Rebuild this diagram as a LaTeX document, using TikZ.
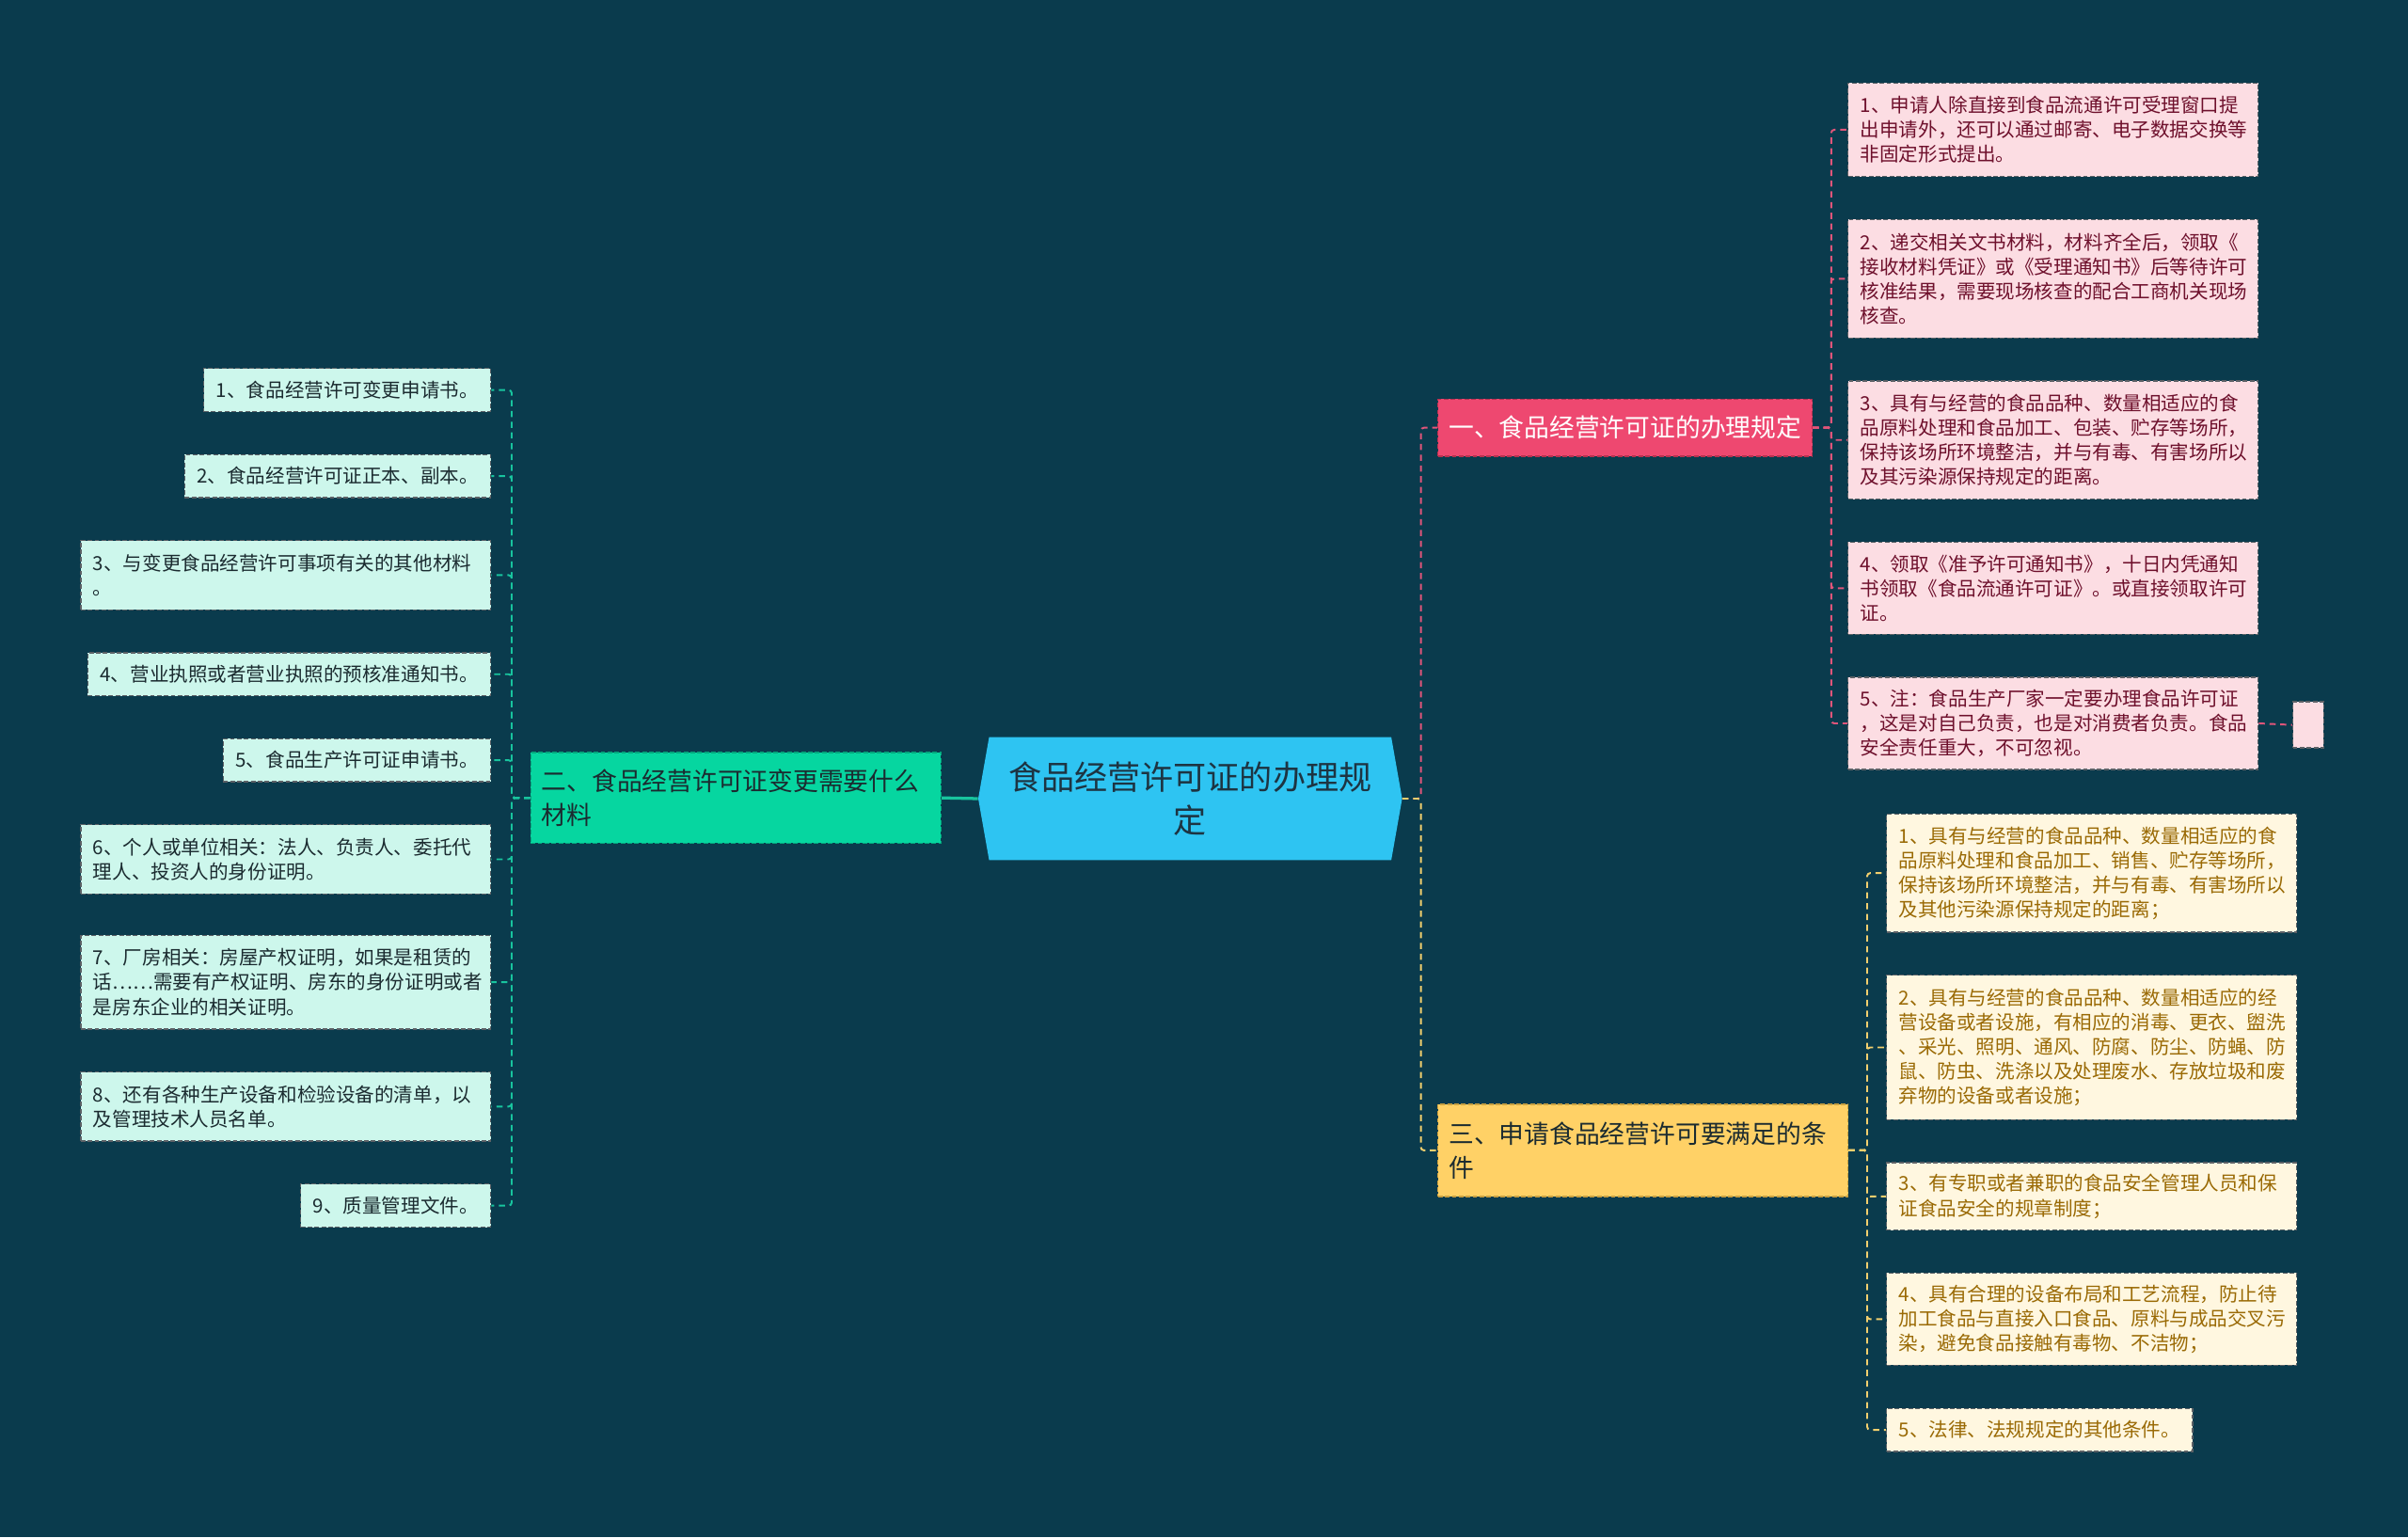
\documentclass[tikz,border=0pt]{standalone}
\usepackage{fontspec}
\newfontfamily\cjk{Noto Sans CJK SC}
\usetikzlibrary{shapes.symbols}
\definecolor{bgcol}{HTML}{0A3B4D}
\definecolor{rootcol}{HTML}{2EC4F2}
\definecolor{roottext}{HTML}{1D3442}
\definecolor{redcol}{HTML}{EE4870}
\definecolor{rededge}{HTML}{B8304F}
\definecolor{mintcol}{HTML}{06D6A0}
\definecolor{mintedge}{HTML}{04A67C}
\definecolor{goldcol}{HTML}{FFD166}
\definecolor{goldedge}{HTML}{C9A040}
\definecolor{pinkfill}{HTML}{FCDDE3}
\definecolor{pinktext}{HTML}{6E102C}
\definecolor{creamfill}{HTML}{FFF7E0}
\definecolor{creamtext}{HTML}{9A6A05}
\definecolor{icefill}{HTML}{CDF7EC}
\definecolor{icetext}{HTML}{1B2B30}
\definecolor{leafedge}{HTML}{5C6166}
\definecolor{pinkwire}{HTML}{E0557A}
\definecolor{goldwire}{HTML}{F2CF6E}
\definecolor{mintwire}{HTML}{18C49E}
\begin{document}
\begin{tikzpicture}[x=1pt, y=-1pt,
    rootnode/.style={shape=signal, signal to=west and east, signal pointer angle=160,
        fill=rootcol, text=roottext, minimum width=276pt, minimum height=80pt,
        inner sep=0pt, align=center, font=\cjk\fontsize{21.5}{28}\selectfont},
    branch/.style={draw, dash pattern=on 3pt off 1.5pt, line width=0.8pt, inner xsep=7pt,
        inner ysep=0pt, align=left, font=\cjk\fontsize{16.4}{22}\selectfont},
    leaf/.style={draw=leafedge, dash pattern=on 3pt off 1.5pt, line width=0.8pt, inner xsep=8pt,
        inner ysep=0pt, align=left, font=\cjk\fontsize{12.6}{16}\selectfont},
    wide/.style={text width=251pt},
    pleaf/.style={leaf, wide, fill=pinkfill, text=pinktext, anchor=west},
    yleaf/.style={leaf, fill=creamfill, text=creamtext, anchor=west},
    gleaf/.style={leaf, fill=icefill, text=icetext, anchor=east},
    wire/.style={line width=1.2pt, dash pattern=on 4pt off 3pt, rounded corners=2pt},
    pwire/.style={wire, draw=pinkwire},
    ywire/.style={wire, draw=goldwire},
    gwire/.style={wire, draw=mintwire}]
    \fill[bgcol] (0,0) rectangle (1568,1001);

    \node[rootnode] (root) at (775,520) {食品经营许可证的办理规\\定};

    \node[branch, fill=redcol, draw=rededge, text=white, anchor=west, minimum height=37pt] (b1) at (936,278.5) {一、食品经营许可证的办理规定};
    \node[branch, fill=mintcol, draw=mintedge, text=icetext, anchor=east, text width=253pt, minimum height=59pt] (b2) at (613,519.5) {二、食品经营许可证变更需要什么\\材料};
    \node[branch, fill=goldcol, draw=goldedge, text=icetext, anchor=west, text width=253pt, minimum height=60pt] (b3) at (936,749) {三、申请食品经营许可要满足的条\\件};

    \node[pleaf, minimum height=61pt] (p1) at (1203,84.5) {1、申请人除直接到食品流通许可受理窗口提\\出申请外，还可以通过邮寄、电子数据交换等\\非固定形式提出。};
    \node[pleaf, minimum height=77pt] (p2) at (1203,181.5) {2、递交相关文书材料，材料齐全后，领取《\\接收材料凭证》或《受理通知书》后等待许可\\核准结果，需要现场核查的配合工商机关现场\\核查。};
    \node[pleaf, minimum height=77pt] (p3) at (1203,286.5) {3、具有与经营的食品品种、数量相适应的食\\品原料处理和食品加工、包装、贮存等场所，\\保持该场所环境整洁，并与有毒、有害场所以\\及其污染源保持规定的距离。};
    \node[pleaf, minimum height=60pt] (p4) at (1203,383) {4、领取《准予许可通知书》，十日内凭通知\\书领取《食品流通许可证》。或直接领取许可\\证。};
    \node[pleaf, minimum height=60pt] (p5) at (1203,471) {5、注：食品生产厂家一定要办理食品许可证\\，这是对自己负责，也是对消费者负责。食品\\安全责任重大，不可忽视。};
    \node[leaf, fill=pinkfill, minimum width=20pt, minimum height=30pt, inner sep=0pt] (tiny) at (1503,472) {};

    \node[yleaf, wide, minimum height=77pt] (y1) at (1228,568.5) {1、具有与经营的食品品种、数量相适应的食\\品原料处理和食品加工、销售、贮存等场所，\\保持该场所环境整洁，并与有毒、有害场所以\\及其他污染源保持规定的距离；};
    \node[yleaf, wide, minimum height=94pt] (y2) at (1228,682) {2、具有与经营的食品品种、数量相适应的经\\营设备或者设施，有相应的消毒、更衣、盥洗\\、采光、照明、通风、防腐、防尘、防蝇、防\\鼠、防虫、洗涤以及处理废水、存放垃圾和废\\弃物的设备或者设施；};
    \node[yleaf, wide, minimum height=44pt] (y3) at (1228,779) {3、有专职或者兼职的食品安全管理人员和保\\证食品安全的规章制度；};
    \node[yleaf, wide, minimum height=60pt] (y4) at (1228,859) {4、具有合理的设备布局和工艺流程，防止待\\加工食品与直接入口食品、原料与成品交叉污\\染，避免食品接触有毒物、不洁物；};
    \node[yleaf, minimum height=28pt] (y5) at (1228,931) {5、法律、法规规定的其他条件。};

    \node[gleaf, minimum height=28pt] (g1) at (320,254) {1、食品经营许可变更申请书。};
    \node[gleaf, minimum height=28pt] (g2) at (320,310) {2、食品经营许可证正本、副本。};
    \node[gleaf, wide, minimum height=45pt] (g3) at (320,374.5) {3、与变更食品经营许可事项有关的其他材料\\。};
    \node[gleaf, minimum height=28pt] (g4) at (320,439) {4、营业执照或者营业执照的预核准通知书。};
    \node[gleaf, minimum height=28pt] (g5) at (320,495) {5、食品生产许可证申请书。};
    \node[gleaf, wide, minimum height=45pt] (g6) at (320,559.5) {6、个人或单位相关：法人、负责人、委托代\\理人、投资人的身份证明。};
    \node[gleaf, wide, minimum height=61pt] (g7) at (320,639.5) {7、厂房相关：房屋产权证明，如果是租赁的\\话……需要有产权证明、房东的身份证明或者\\是房东企业的相关证明。};
    \node[gleaf, wide, minimum height=45pt] (g8) at (320,720.5) {8、还有各种生产设备和检验设备的清单，以\\及管理技术人员名单。};
    \node[gleaf, minimum height=28pt] (g9) at (320,785) {9、质量管理文件。};

    \draw[mintwire, line width=2pt] (b2.east) -- (root.west);
    \draw[pwire] (root.east) -- ++(12,0) |- (b1.west);
    \draw[ywire] (root.east) -- ++(12,0) |- (b3.west);
    \foreach \i in {1,...,5}
        \draw[pwire] (b1.east) -- ++(12,0) |- (p\i.west);
    \draw[pwire] (p5.east) -- (tiny.west);
    \foreach \i in {1,...,5}
        \draw[ywire] (b3.east) -- ++(12,0) |- (y\i.west);
    \foreach \i in {1,...,9}
        \draw[gwire] (b2.west) -- ++(-12,0) |- (g\i.east);
\end{tikzpicture}
\end{document}
